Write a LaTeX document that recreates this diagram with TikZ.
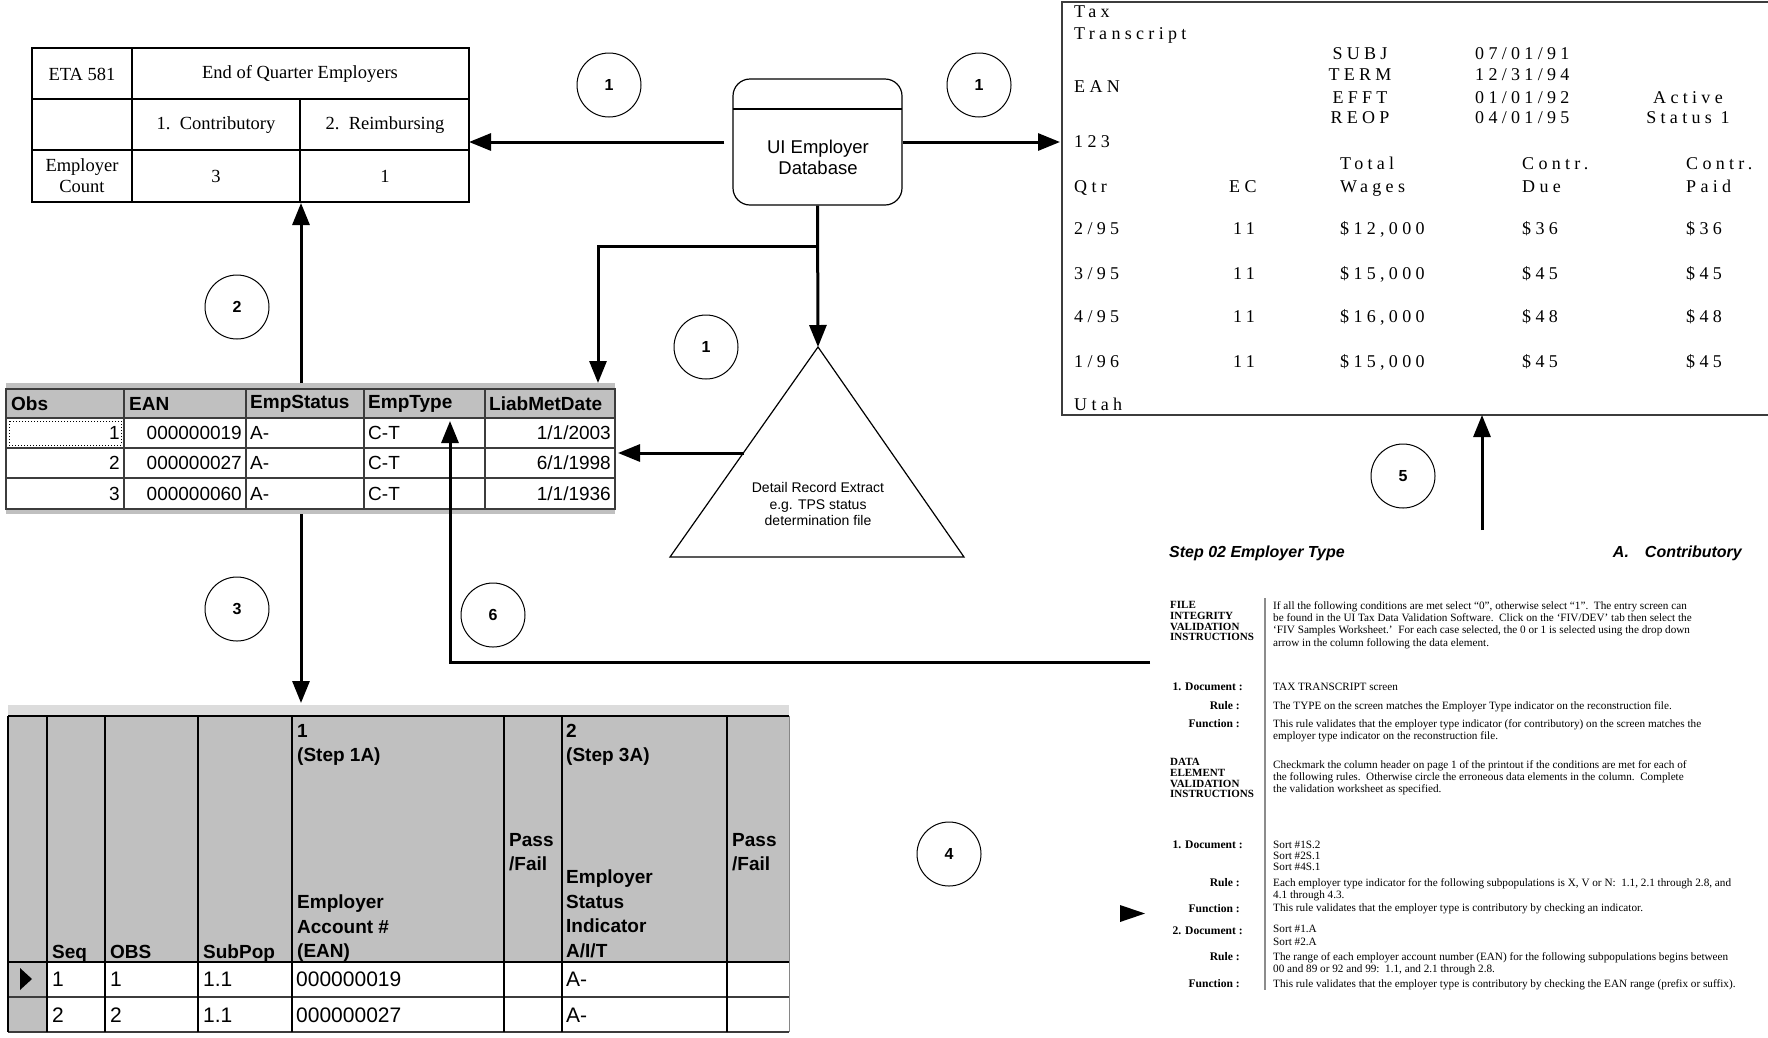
\documentclass[tikz,border=0pt]{standalone}
\usepackage{fontspec}
\setmainfont{Liberation Serif}
\setsansfont{Liberation Sans}
\newfontfamily\spacedfont[LetterSpace=24]{Liberation Serif}
\usetikzlibrary{arrows.meta}
\definecolor{gridGray}{RGB}{192, 192, 192}
\definecolor{lineGray}{RGB}{60, 60, 60}
\definecolor{barGray}{RGB}{140, 140, 140}

\tikzset{
  flow/.style={line width=3pt, -{Triangle[length=22pt, width=17pt]}},
  stepnum/.style={draw, circle, minimum size=64pt, inner sep=0pt, line width=1pt,
    font=\sffamily\bfseries\fontsize{16}{16}\selectfont},
  etacell/.style={font=\fontsize{18.5}{21}\selectfont, align=center, inner sep=0pt},
  hdr/.style={font=\sffamily\bfseries\fontsize{19}{24.5}\selectfont, inner sep=0pt, align=left},
  dat/.style={font=\sffamily\fontsize{19}{21}\selectfont, inner sep=0pt},
  taxtxt/.style={font=\spacedfont\fontsize{18}{20}\selectfont, inner sep=0pt, anchor=base west},
  doclabel/.style={font=\bfseries\fontsize{11}{10.8}\selectfont, inner sep=0pt, align=left, anchor=north west},
  docfield/.style={font=\bfseries\fontsize{11.6}{12}\selectfont, inner sep=0pt, anchor=north east},
  doctext/.style={font=\fontsize{11.2}{12.4}\selectfont, inner sep=0pt, align=left, anchor=north west},
}

\begin{document}
\begin{tikzpicture}[x=1pt, y=-1pt]
  \useasboundingbox (0,0) rectangle (1768,1037);
  \fill[white] (0,0) rectangle (1768,1037);

  % ETA 581 report table
  \draw[line width=2.5pt] (32,48) rectangle (469,202);
  \draw[line width=2.5pt] (32,99) -- (469,99) (32,150) -- (469,150) (300,99) -- (300,202);
  \draw[line width=1.5pt] (132,48) -- (132,202);
  \node[etacell] (eta) at (82,74) {ETA 581};
  \node[etacell] (etahead) at (300,74) {End of Quarter Employers};
  \node[etacell] (contrib) at (216,125) {1.\ \ Contributory};
  \node[etacell] (reimb) at (385,125) {2.\ \ Reimbursing};
  \node[etacell] (count) at (82,176) {Employer\\Count};
  \node[etacell] (ncontrib) at (216,176) {3};
  \node[etacell] (nreimb) at (385,176) {1};
  \coordinate (etaR) at (469,142);
  \coordinate (etaB) at (301,203);

  % UI employer database
  \node[draw, line width=1.2pt, rounded corners=17pt, minimum width=169pt, minimum height=126pt,
    inner sep=0pt] (db) at (817.5,142) {};
  \draw[line width=1.2pt] (733,109) -- (902,109);
  \node[font=\sffamily\fontsize{18.5}{21}\selectfont, align=center, inner sep=0pt] (dblabel) at (818,157)
    {UI Employer\\Database};

  % detail record extract
  \coordinate (apex) at (818,347);
  \coordinate (baseR) at (964,557);
  \coordinate (baseL) at (670,557);
  \draw[line width=1.2pt] (apex) -- (baseR) -- (baseL) -- cycle;
  \node[font=\sffamily\fontsize{14}{16.5}\selectfont, align=center, inner sep=0pt] (extract) at (818,504)
    {Detail Record Extract\\e.g. TPS status\\determination file};
  \coordinate (triL) at (744,453);

  % extract listing
  \fill[gridGray] (6,383) rectangle (615,418);
  \fill[gridGray] (6,509) rectangle (615,514);
  \draw[lineGray, line width=1.2pt] (6,389) rectangle (615,509);
  \foreach \y in {418,448,478}
    \draw[lineGray, line width=1.2pt] (6,\y) -- (615,\y);
  \foreach \x in {124,246,364,485}
    \draw[lineGray, line width=1.2pt] (\x,389) -- (\x,509);
  \draw[dotted, line width=1pt] (9,421) rectangle (121,445);
  \node[hdr, anchor=west] (hobs) at (11,404) {Obs};
  \node[hdr, anchor=west] (hean) at (129,404) {EAN};
  \node[hdr, anchor=west] (hst) at (250,404) {EmpStatus};
  \node[hdr, anchor=west] (hty) at (368,404) {EmpType};
  \node[hdr, anchor=west] (hdt) at (489,404) {LiabMetDate};
  \foreach \y/\o/\e/\d in {433/1/000000019/{1/1/2003}, 463/2/000000027/{6/1/1998}, 494/3/000000060/{1/1/1936}} {
    \node[dat, anchor=east] (obs\o) at (120,\y) {\o};
    \node[dat, anchor=east] (ean\o) at (242,\y) {\e};
    \node[dat, anchor=west] (st\o) at (250,\y) {A-};
    \node[dat, anchor=west] (ty\o) at (368,\y) {C-T};
    \node[dat, anchor=east] (dt\o) at (611,\y) {\d};
  }
  \coordinate (obsT) at (301,383);
  \coordinate (obsB) at (301,514);
  \coordinate (obsR) at (618,453);
  \coordinate (dateT) at (598,383);
  \coordinate (typeCell) at (450,421);

  % validation worksheet
  \fill[gridGray!55] (8,705) rectangle (789,716);
  \fill[gridGray] (8,716) rectangle (789,962);
  \fill[gridGray] (8,962) rectangle (47,1032);
  \draw[line width=2pt] (8,716) -- (789,716) (8,962) -- (789,962);
  \draw[lineGray, line width=1.2pt] (8,997) -- (789,997) (8,1032) -- (789,1032);
  \foreach \x in {8,47,105,198,292,504,562,727}
    \draw[line width=1.5pt] (\x,716) -- (\x,1032);
  \draw[gridGray!70!black, line width=1pt] (789,716) -- (789,1032);
  \fill (20,968) -- (32,979) -- (20,990) -- cycle;
  \node[hdr, anchor=north west] (wseq) at (52,945) {Seq};
  \node[hdr, anchor=north west] (wobs) at (110,945) {OBS};
  \node[hdr, anchor=north west] (wsub) at (203,945) {SubPop};
  \node[hdr, anchor=north west] (wstep1) at (297,724) {1\\(Step 1A)};
  \node[hdr, anchor=north west] (wean) at (297,895) {Employer\\Account \#\\(EAN)};
  \node[hdr, anchor=north west] (wpass1) at (509,833) {Pass\\/Fail};
  \node[hdr, anchor=north west] (wstep2) at (566,724) {2\\(Step 3A)};
  \node[hdr, anchor=north west] (wind) at (566,870) {Employer\\Status\\Indicator\\A/I/T};
  \node[hdr, anchor=north west] (wpass2) at (732,833) {Pass\\/Fail};
  \foreach \y/\n/\e in {979/1/000000019, 1015/2/000000027} {
    \node[dat, anchor=west, font=\sffamily\fontsize{21}{21}\selectfont] (wq\n) at (52,\y) {\n};
    \node[dat, anchor=west, font=\sffamily\fontsize{21}{21}\selectfont] (wo\n) at (110,\y) {\n};
    \node[dat, anchor=west, font=\sffamily\fontsize{21}{21}\selectfont] (wp\n) at (203,\y) {1.1};
    \node[dat, anchor=west, font=\sffamily\fontsize{21}{21}\selectfont] (we\n) at (296,\y) {\e};
    \node[dat, anchor=west, font=\sffamily\fontsize{21}{21}\selectfont] (wa\n) at (566,\y) {A-};
  }
  \coordinate (wsTop) at (301,703);

  % tax transcript screen
  \draw[lineGray, line width=2pt] (1768,2) -- (1062,2) -- (1062,415) -- (1768,415);
  \node[taxtxt] (ttax) at (1074,17) {Tax};
  \node[taxtxt] (ttrans) at (1074,39) {Transcript};
  \node[taxtxt] (tean) at (1074,92) {EAN};
  \node[taxtxt] (t123) at (1074,147) {123};
  \foreach \y/\k/\d in {59/SUBJ/{07/01/91}, 80/TERM/{12/31/94}, 103/EFFT/{01/01/92}, 123/REOP/{04/01/95}} {
    \node[taxtxt, anchor=base] (tk\y) at (1360,\y) {\k};
    \node[taxtxt] (td\y) at (1475,\y) {\d};
  }
  \node[taxtxt, anchor=base] (tact) at (1688,103) {Active};
  \node[taxtxt, anchor=base] (tstat) at (1688,123) {Status 1};
  \node[taxtxt] (tqtr) at (1074,192) {Qtr};
  \node[taxtxt] (tec) at (1229,192) {EC};
  \node[taxtxt] (ttot) at (1340,169) {Total};
  \node[taxtxt] (twag) at (1340,192) {Wages};
  \node[taxtxt] (tcd) at (1522,169) {Contr.};
  \node[taxtxt] (tdue) at (1522,192) {Due};
  \node[taxtxt] (tcp) at (1686,169) {Contr.};
  \node[taxtxt] (tpaid) at (1686,192) {Paid};
  \foreach \y/\q/\w/\c in {234/{2/95}/{\$12,000}/{\$36}, 279/{3/95}/{\$15,000}/{\$45},
                           322/{4/95}/{\$16,000}/{\$48}, 367/{1/96}/{\$15,000}/{\$45}} {
    \node[taxtxt] (rq\y) at (1074,\y) {\q};
    \node[taxtxt] (re\y) at (1233,\y) {11};
    \node[taxtxt] (rw\y) at (1340,\y) {\w};
    \node[taxtxt] (rd\y) at (1522,\y) {\c};
    \node[taxtxt] (rp\y) at (1686,\y) {\c};
  }
  \node[taxtxt] (tutah) at (1074,410) {Utah};
  \coordinate (taxL) at (1060,142);
  \coordinate (taxB) at (1482,415);

  % validation handbook page
  \node[font=\sffamily\bfseries\itshape\fontsize{16}{16}\selectfont, anchor=west, inner sep=0pt] (steptitle)
    at (1169,553) {Step 02 Employer Type};
  \node[font=\sffamily\bfseries\itshape\fontsize{16}{16}\selectfont, anchor=east, inner sep=0pt] (steptype)
    at (1742,553) {A.\quad Contributory};
  \draw[barGray, line width=2.5pt] (1265,598) -- (1265,990);
  \node[doclabel] (fiv) at (1170,601) {FILE\\INTEGRITY\\VALIDATION\\INSTRUCTIONS};
  \node[doctext] (fivtext) at (1273,601) {If all the following conditions are met select ``0'', otherwise select ``1''.\ \ The entry screen can\\
    be found in the UI Tax Data Validation Software.\ \ Click on the `FIV/DEV' tab then select the\\
    `FIV Samples Worksheet.'\ \ For each case selected, the 0 or 1 is selected using the drop down\\
    arrow in the column following the data element.};
  \node[docfield] (doc1) at (1243,683) {1. Document :};
  \node[doctext] (doc1text) at (1273,683) {TAX TRANSCRIPT screen};
  \node[docfield] (rule1) at (1240,701) {Rule :};
  \node[doctext] (rule1text) at (1273,701) {The TYPE on the screen matches the Employer Type indicator on the reconstruction file.};
  \node[docfield] (fun1) at (1240,719) {Function :};
  \node[doctext] (fun1text) at (1273,719) {This rule validates that the employer type indicator (for contributory) on the screen matches the\\
    employer type indicator on the reconstruction file.};
  \node[doclabel] (dev) at (1170,758) {DATA\\ELEMENT\\VALIDATION\\INSTRUCTIONS};
  \node[doctext] (devtext) at (1273,760) {Checkmark the column header on page 1 of the printout if the conditions are met for each of\\
    the following rules.\ \ Otherwise circle the erroneous data elements in the column.\ \ Complete\\
    the validation worksheet as specified.};
  \node[docfield] (doc2) at (1243,841) {1. Document :};
  \node[doctext, font=\fontsize{11.2}{10.8}\selectfont] (doc2text) at (1273,841) {Sort \#1S.2\\Sort \#2S.1\\Sort \#4S.1};
  \node[docfield] (rule2) at (1240,878) {Rule :};
  \node[doctext] (rule2text) at (1273,878) {Each employer type indicator for the following subpopulations is X, V or N:\ \ 1.1, 2.1 through 2.8, and\\
    4.1 through 4.3.};
  \node[docfield] (fun2) at (1240,904) {Function :};
  \node[doctext] (fun2text) at (1273,904) {This rule validates that the employer type is contributory by checking an indicator.};
  \node[docfield] (doc3) at (1243,927) {2. Document :};
  \node[doctext] (doc3text) at (1273,925) {Sort \#1.A\\Sort \#2.A};
  \node[docfield] (rule3) at (1240,952) {Rule :};
  \node[doctext] (rule3text) at (1273,952) {The range of each employer account number (EAN) for the following subpopulations begins between\\
    00 and 89 or 92 and 99:\ \ 1.1, and 2.1 through 2.8.};
  \node[docfield] (fun3) at (1240,979) {Function :};
  \node[doctext] (fun3text) at (1273,979) {This rule validates that the employer type is contributory by checking the EAN range (prefix or suffix).};
  \coordinate (docL) at (1150,662);
  \coordinate (docT) at (1482,530);
  \fill (1120,905) -- (1145,913.5) -- (1120,922) -- cycle;

  % data flows
  \draw[flow, shorten <=8pt] (db.west) -- (etaR);
  \draw[flow] (db.east) -- (taxL);
  \draw[flow] (db.south) -- (apex);
  \coordinate (split) at (818,246);
  \draw[flow] (split) -| (dateT);
  \draw[flow] (triL) -- (obsR);
  \draw[flow] (obsT) -- (etaB);
  \draw[flow] (obsB) -- (wsTop);
  \draw[flow] (docL) -| (typeCell);
  \draw[flow] (docT) -- (taxB);

  % step numbers
  \node[stepnum] (s1a) at (609,85) {1};
  \node[stepnum] (s1b) at (979,85) {1};
  \node[stepnum] (s1c) at (706,347) {1};
  \node[stepnum] (s2) at (237,307) {2};
  \node[stepnum] (s3) at (237,609) {3};
  \node[stepnum] (s4) at (949,854) {4};
  \node[stepnum] (s5) at (1403,476) {5};
  \node[stepnum] (s6) at (493,615) {6};
\end{tikzpicture}
\end{document}
